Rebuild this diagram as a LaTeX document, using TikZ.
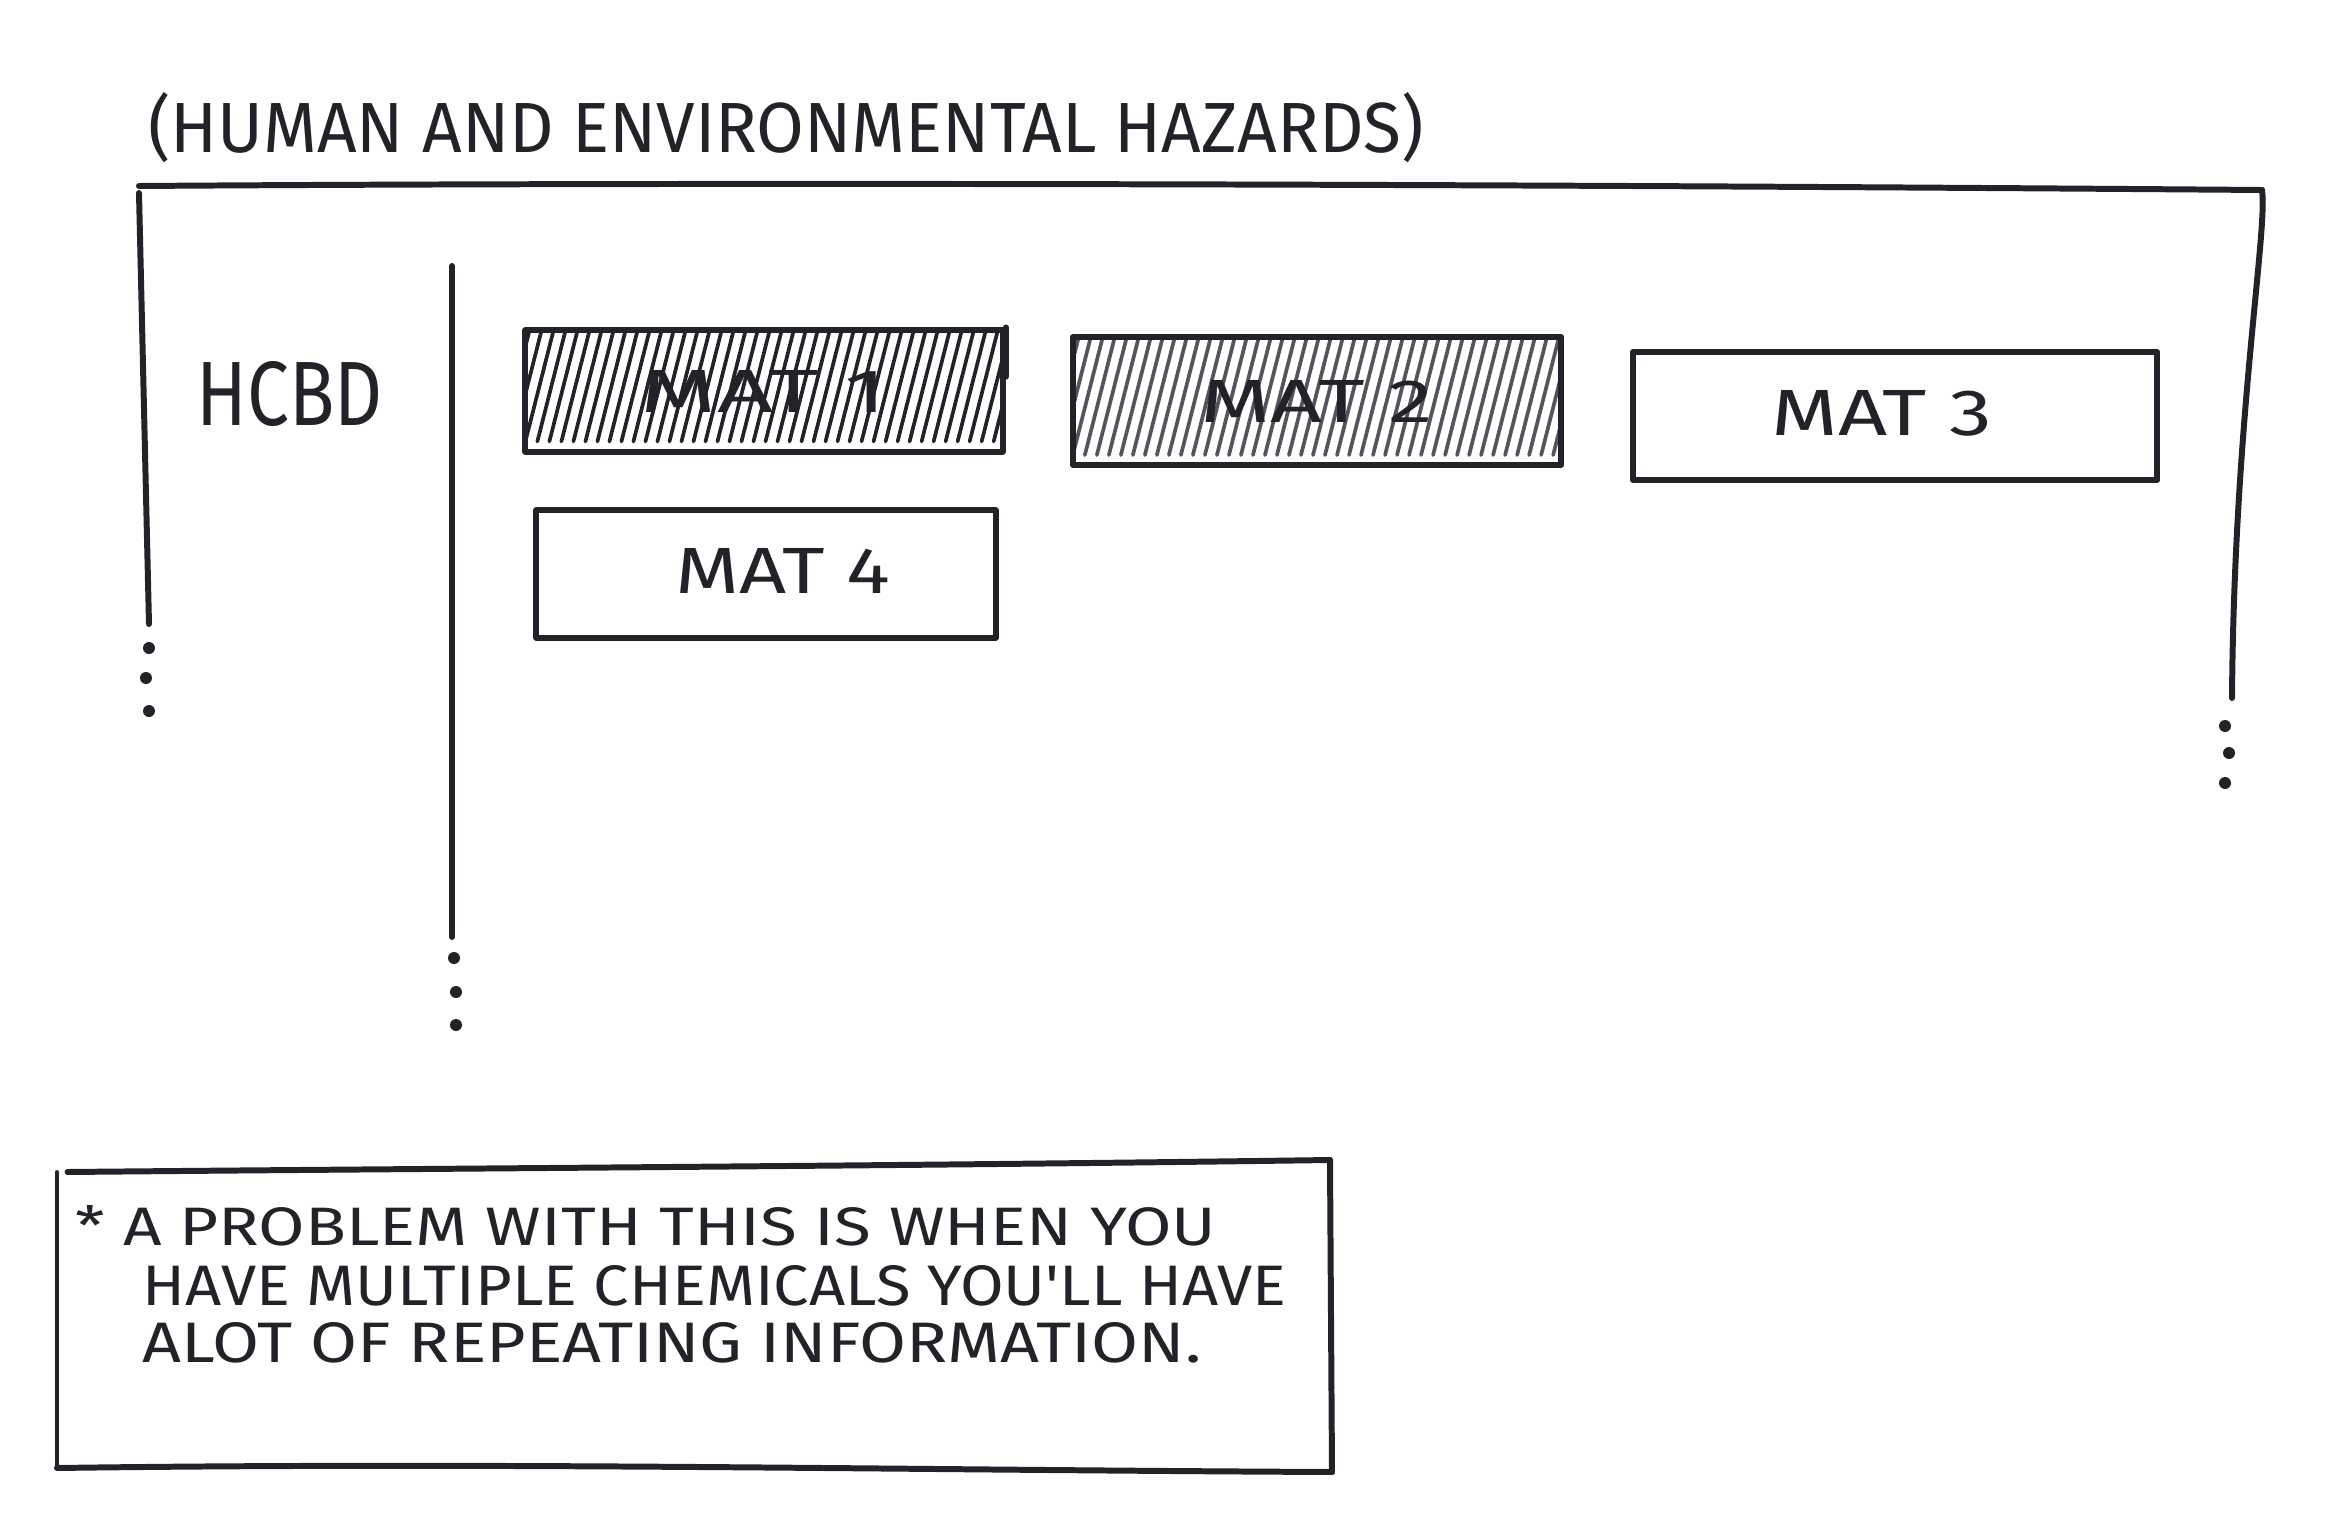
\documentclass[tikz,border=0pt]{standalone}
\usepackage{fontspec}
\usepackage{graphicx}
\newfontfamily\hand{Fira Sans}
% text fitted to a given width and cap height (values in mm)
\newcommand\fitted[3]{\resizebox{#1mm}{#2mm}{\hand #3}}
\definecolor{inkc}{RGB}{36,34,40}
\definecolor{greyink}{RGB}{85,84,90}
\begin{document}
\begin{tikzpicture}[x=0.01cm,y=-0.01cm,
  ink/.style={draw=inkc,line width=1.7pt,line cap=round,line join=round},
  thinink/.style={draw=inkc,line width=1.1pt,line cap=round},
  inkdot/.style={fill=inkc},
  lbl/.style={text=inkc,inner sep=0pt},
  matbox/.style={ink,rectangle,inner sep=0pt},
  hatched/.style={path picture={
      \foreach \k in {-4,...,44}{
        \draw[draw=#1,line width=1.05pt,line cap=round]
          ([xshift=\k*1.2mm]path picture bounding box.south west)
          ++(0,-10) -- ++(38,-150);
      }}}]
\useasboundingbox (0,0) rectangle (2338,1527);
\fill[white] (0,0) rectangle (2338,1527);

% heading
\node[lbl,anchor=base] (title) at (786,152) {\fitted{127.5}{6.0}{(HUMAN AND ENVIRONMENTAL HAZARDS)}};

% outer frame, open at the bottom
\coordinate (ftl) at (139,186);
\coordinate (ftr) at (2262,190);
\coordinate (flb) at (149,624);
\coordinate (frb) at (2232,698);
\draw[ink] (ftl) .. controls (700,182) and (1500,184) .. (ftr);
\draw[ink] ([yshift=-2]ftl) -- (flb);
\draw[ink] (ftr) .. controls (2268,230) and (2234,420) .. (frb);
\foreach \p [count=\i] in {(149,648),(146,678),(149,711)}
  \fill[inkdot] \p circle (6) coordinate (ld\i);
\foreach \p [count=\i] in {(2225,726),(2229,753),(2225,783)}
  \fill[inkdot] \p circle (6) coordinate (rd\i);

% divider between row label and materials
\coordinate (dtop) at (452,266);
\coordinate (dbot) at (452,937);
\draw[ink] (dtop) -- (dbot);
\foreach \p [count=\i] in {(454,958),(456,992),(456,1025)}
  \fill[inkdot] \p circle (6) coordinate (dd\i);

% row label
\node[lbl,anchor=base] (hcbd) at (290,425) {\fitted{18.6}{6.4}{HCBD}};

% material boxes
\node[matbox,hatched=inkc,minimum width=47.7mm,minimum height=12.1mm] (m1) at (764,391) {};
\draw[ink] ([yshift=-14]m1.north east) -- (m1.north east);
\node[lbl] (m1t) at (m1.center) {\fitted{24.6}{4.2}{MAT 1}};
\node[matbox,hatched=greyink,minimum width=48.8mm,minimum height=12.8mm] (m2) at (1317,401) {};
\node[lbl] (m2t) at (m2.center) {\fitted{23.3}{4.2}{MAT 2}};
\node[matbox,minimum width=52.4mm,minimum height=12.8mm] (m3) at (1895,416) {};
\node[lbl] (m3t) at (1882,413) {\fitted{22.1}{4.5}{MAT 3}};
\node[matbox,minimum width=45.9mm,minimum height=12.7mm] (m4) at (766,574) {};
\node[lbl] (m4t) at (783,571) {\fitted{21.5}{4.5}{MAT 4}};

% note box
\coordinate (ntl) at (57,1172);
\coordinate (ntr) at (1330,1160);
\coordinate (nbr) at (1332,1472);
\coordinate (nbl) at (57,1468);
\draw[ink] ([xshift=3]ntl) .. controls (500,1168) and (900,1166) .. (ntr);
\draw[thinink] (ntl) -- (nbl);
\draw[ink] (ntr) -- (nbr);
\draw[ink] (nbl) .. controls (500,1462) and (900,1470) .. (nbr);
\node[lbl,anchor=base west] (n1) at (75,1245) {\fitted{114}{4.0}{* A PROBLEM WITH THIS IS WHEN YOU}};
\node[lbl,anchor=base west] (n2) at (142,1305) {\fitted{114.3}{4.0}{HAVE MULTIPLE CHEMICALS YOU'LL HAVE}};
\node[lbl,anchor=base west] (n3) at (142,1362) {\fitted{105.8}{4.0}{ALOT OF REPEATING INFORMATION.}};
\end{tikzpicture}
\end{document}
